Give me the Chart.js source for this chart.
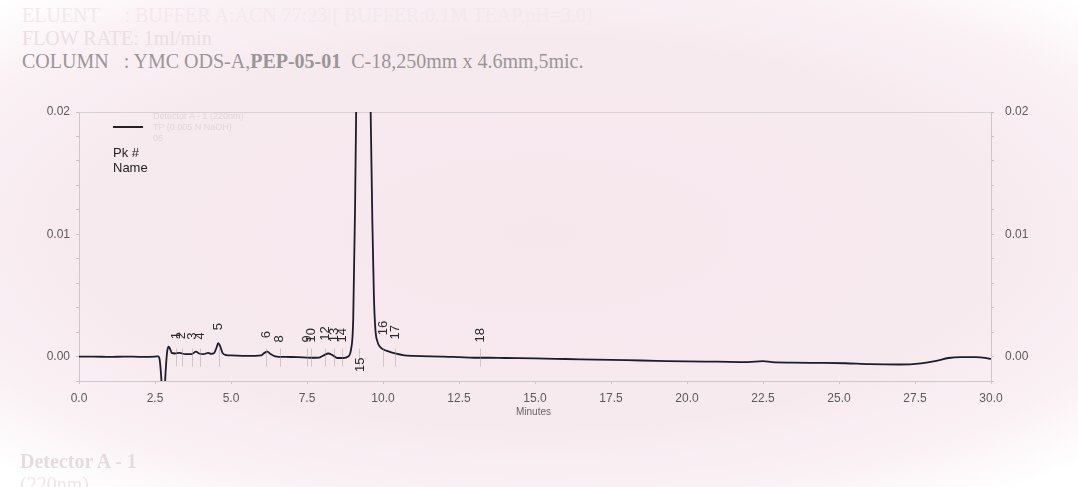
<!DOCTYPE html>
<html>
<head>
<meta charset="utf-8">
<script src="https://cdn.jsdelivr.net/npm/chart.js@4.4.0/dist/chart.umd.min.js"></script>
<style>
html, body { margin: 0; padding: 0; }
body {
    width: 1078px; height: 487px; overflow: hidden; position: relative;
    background: radial-gradient(ellipse 72% 66% at 50% 48%, #f6e7ed 0%, #f7eaef 60%, #faf1f5 82%, #ffffff 100%);
    font-family: Arial, "Liberation Sans", sans-serif;
}
#chart { position: absolute; left: 0; top: 0; }
.hdr { position: absolute; left: 22px; font-family: "Liberation Serif", "DejaVu Serif", serif; font-size: 20px; white-space: pre; }
.faint { position: absolute; font-size: 9px; color: #e2d6dc; white-space: pre; }
.lbl { position: absolute; font-size: 13px; color: #222; }
</style>
</head>
<body>
<div class="hdr" style="top:4px; color:#f3e9ed;">ELUENT     : BUFFER A:ACN 77:23 [ BUFFER:0.1M TEAP,pH=3.0]</div>
<div class="hdr" style="top:27px; color:#ebdfe4;">FLOW RATE: 1ml/min</div>
<div class="hdr" style="top:50px; color:#9a9598;">COLUMN   : YMC ODS-A,<b>PEP-05-01</b>  C-18,250mm x 4.6mm,5mic.</div>

<canvas id="chart" width="1078" height="487"></canvas>

<div style="position:absolute; left:113px; top:126px; width:30px; height:2px; background:#222;"></div>
<div class="faint" style="left:153px; top:111px;">Detector A - 1 (220nm)</div>
<div class="faint" style="left:153px; top:122px;">TP (0.005 N NaOH)</div>
<div class="faint" style="left:153px; top:133px;">05</div>
<div class="lbl" style="left:113px; top:145px;">Pk #</div>
<div class="lbl" style="left:113px; top:160px;">Name</div>
<div style="position:absolute; left:516px; top:406px; font-size:10px; color:#666;">Minutes</div>

<div class="hdr" style="top:450px; left:20px; font-weight:bold; color:#e6dce0;">Detector A - 1</div>
<div class="hdr" style="top:473px; left:20px; color:#eee5e9;">(220nm)</div>

<script>
// chromatogram trace, minutes vs AU
const retentionTimes = [
    0.0, 0.5, 1.0, 1.5, 2.0, 2.5, 2.6, 2.65, 2.7, 2.75, 2.8, 2.85, 2.9, 2.95, 3.0, 3.05,
    3.15, 3.3, 3.5, 3.7, 3.85, 3.95, 4.1, 4.25, 4.35, 4.45, 4.52, 4.58, 4.65, 4.72, 4.85, 5.0,
    5.5, 6.0, 6.1, 6.2, 6.3, 6.45, 6.8, 7.2, 7.6, 7.9, 8.05, 8.2, 8.35, 8.5, 8.7, 8.85,
    8.95, 9.02, 9.08, 9.14, 9.3, 9.45, 9.55, 9.6, 9.65, 9.7, 9.75, 9.82, 9.9, 10.0,
    10.2, 10.4, 10.7, 11.0, 12.0, 12.5, 13.0, 13.5, 14.0, 15.0, 16.0, 17.0, 18.0, 19.0,
    20.0, 21.0, 22.0, 22.5, 22.8, 23.5, 24.5, 25.2, 26.0, 27.0, 27.7, 28.2, 28.6, 29.0,
    29.5, 29.8, 30.0
];
const absorbance = [
    0.0, 0.0, -0.00003, 0.0, -0.00002, 0.0, 0.00002, -0.0002, -0.0015, -0.0035, -0.0035, -0.0012, 0.0004, 0.0008, 0.0006, 0.0003,
    0.00025, 0.0003, 0.0002, 0.0002, 0.0004, 0.00025, 0.0002, 0.0003, 0.00022, 0.0003, 0.0007, 0.0011, 0.0008, 0.0003, 0.00012, 0.0001,
    0.00005, 0.0001, 0.0003, 0.0004, 0.0002, 0.00002, -0.00003, -0.00005, -0.0001, -0.00008, 0.0001, 0.00025, 0.0001, -0.00012, -0.00012, 0.0,
    0.0006, 0.003, 0.012, 0.025, 0.08, 0.09, 0.03, 0.019, 0.011, 0.005, 0.0022, 0.0012, 0.0008, 0.0006,
    0.0004, 0.00025, 0.0001, 0.00005, 0.0, -0.00005, -0.0001, -0.0001, -0.00012, -0.00015, -0.0002, -0.00025, -0.0003, -0.00035,
    -0.0004, -0.00042, -0.00045, -0.00038, -0.00046, -0.0005, -0.00052, -0.00055, -0.00062, -0.00065, -0.00055, -0.00035, -0.00012, -0.00005,
    -0.00005, -0.0001, -0.0002
];

// integrated peak numbers and their retention times
const peakNumbers = ['1', '2', '3', '4', '5', '6', '8', '9', '10', '12', '13', '14', '15', '16', '17', '18'];
const peakTimes = [3.2, 3.38, 3.72, 3.98, 4.6, 6.15, 6.6, 7.5, 7.63, 8.1, 8.4, 8.65, 9.2, 10.0, 10.4, 13.2];

const xTicks = [0, 2.5, 5, 7.5, 10, 12.5, 15, 17.5, 20, 22.5, 25, 27.5, 30];

function signalAt(t) {
    for (let i = 1; i < retentionTimes.length; i++) {
        if (retentionTimes[i] >= t) {
            const t0 = retentionTimes[i - 1], t1 = retentionTimes[i];
            const f = (t - t0) / (t1 - t0);
            return absorbance[i - 1] + f * (absorbance[i] - absorbance[i - 1]);
        }
    }
    return absorbance[absorbance.length - 1];
}

Chart.defaults.font.family = 'Arial, "Liberation Sans", sans-serif';

const frame = {
    id: 'frame',
    beforeDatasetsDraw(chart) {
        const { ctx, chartArea: a } = chart;
        ctx.save();
        ctx.strokeStyle = '#d9d0d4';
        ctx.lineWidth = 1;
        ctx.beginPath();
        ctx.moveTo(a.left, a.top + 0.5);
        ctx.lineTo(a.right, a.top + 0.5);
        ctx.stroke();
        ctx.restore();
    }
};

const peakMarks = {
    id: 'peakMarks',
    afterDatasetsDraw(chart) {
        const { ctx } = chart;
        const x = chart.scales.x, y = chart.scales.y;
        const zero = y.getPixelForValue(0);
        ctx.save();
        ctx.font = '13px Arial, "Liberation Sans", sans-serif';
        ctx.fillStyle = '#2a2a2a';
        ctx.textBaseline = 'middle';
        peakTimes.forEach((t, i) => {
            const px = x.getPixelForValue(t);
            const v = signalAt(t);
            ctx.strokeStyle = 'rgba(160,150,155,0.45)';
            ctx.lineWidth = 1;
            ctx.beginPath();
            ctx.moveTo(Math.round(px) + 0.5, zero - 8);
            ctx.lineTo(Math.round(px) + 0.5, zero + 10);
            ctx.stroke();

            ctx.save();
            if (v > 0.004) {
                ctx.translate(px + 2, zero + 1);
                ctx.rotate(-Math.PI / 2);
                ctx.textAlign = 'right';
            } else {
                ctx.translate(px, Math.min(y.getPixelForValue(v), zero) - 14);
                ctx.rotate(-Math.PI / 2);
                ctx.textAlign = 'left';
            }
            ctx.fillText(peakNumbers[i], 0, 0);
            ctx.restore();
        });
        ctx.restore();
    }
};

function yAxis(side, width, pad) {
    return {
        type: 'linear',
        position: side,
        min: -0.002,
        max: 0.02,
        afterBuildTicks: axis => {
            axis.ticks = [];
            for (let i = -1; i <= 10; i++) axis.ticks.push({ value: i * 0.002 });
        },
        afterFit: axis => { axis.width = width; },
        ticks: {
            autoSkip: false,
            color: '#5a5a5a',
            font: { size: 12 },
            padding: pad,
            callback: v => Math.abs(v * 100 - Math.round(v * 100)) < 1e-6 ? Math.abs(v).toFixed(2) : ''
        },
        grid: { display: true, drawOnChartArea: false, tickLength: 3, color: '#c8c0c4' },
        border: { display: true, color: '#cfc6ca' }
    };
}

new Chart(document.getElementById('chart'), {
    type: 'line',
    data: {
        datasets: [{
            data: retentionTimes.map((t, i) => ({ x: t, y: absorbance[i] })),
            borderColor: '#1d1c2c',
            borderWidth: 1.8,
            pointRadius: 0,
            cubicInterpolationMode: 'monotone',
            fill: false
        }]
    },
    options: {
        responsive: false,
        animation: false,
        layout: { padding: { top: 112, left: 0, right: 0, bottom: 0 } },
        plugins: { legend: { display: false }, tooltip: { enabled: false } },
        scales: {
            x: {
                type: 'linear',
                min: 0,
                max: 30,
                afterBuildTicks: axis => { axis.ticks = xTicks.map(v => ({ value: v })); },
                afterFit: axis => { axis.height = 106; },
                ticks: {
                    autoSkip: false,
                    maxRotation: 0,
                    color: '#5a5a5a',
                    font: { size: 12 },
                    padding: 7,
                    callback: v => v.toFixed(1)
                },
                grid: { display: true, drawOnChartArea: false, tickLength: 3, color: '#d0c8cc' },
                border: { display: true, color: '#cfc6ca' }
            },
            y: yAxis('left', 79, 6),
            y2: yAxis('right', 87, 11)
        }
    },
    plugins: [frame, peakMarks]
});
</script>
</body>
</html>
